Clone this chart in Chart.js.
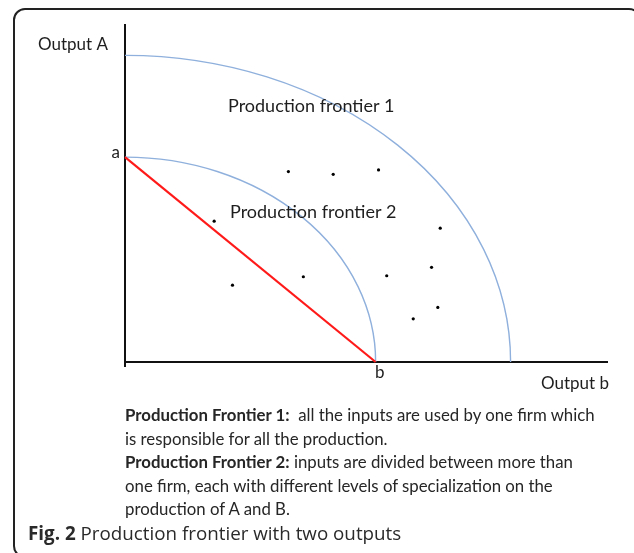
<!DOCTYPE html>
<html>
<head>
<meta charset="utf-8">
<script src="https://cdn.jsdelivr.net/npm/chart.js@4/dist/chart.umd.min.js"></script>
<style>
  html, body { margin: 0; padding: 0; background: #fff; }
  #wrap { position: relative; width: 634px; height: 553px; overflow: hidden; }
  #frame { position: absolute; left: 13px; top: 8px; width: 624px; height: 546px;
           border: 2px solid #222; border-radius: 12px; }
  canvas { position: absolute; left: 0; top: 0; }
  #notes { position: absolute; left: 125px; top: 403px; font-family: Lato, sans-serif;
           font-size: 16.8px; line-height: 23.5px; color: #262626; white-space: nowrap; }
  #caption { position: absolute; left: 28px; top: 520px; font-family: "Open Sans", sans-serif;
             font-size: 18.8px; line-height: 26px; color: #2a2a2a; white-space: nowrap; }
</style>
</head>
<body>
<div id="wrap">
  <div id="frame"></div>
  <canvas id="chart" width="634" height="553"></canvas>
  <div id="notes">
    <b>Production Frontier 1:</b>&nbsp; all the inputs are used by one firm which<br>
    is responsible for all the production.<br>
    <b>Production Frontier 2:</b> inputs are divided between more than<br>
    one firm, each with different levels of specialization on the<br>
    production of A and B.
  </div>
  <div id="caption"><b>Fig. 2</b> Production frontier with two outputs</div>
</div>
<script>
// frontier intercepts: [on Output b axis, on Output A axis]
const frontier1 = [8.0, 9.1];
const frontier2 = [5.2, 6.08];
const frontierNames = ["Production frontier 1", "Production frontier 2"];

// straight line between a and b
const pointA = 6.08;
const pointB = 5.2;

// firms scattered around
const dotX = [3.39, 4.32, 5.26, 1.85, 2.23, 3.70, 5.43, 5.98, 6.54, 6.36, 6.49];
const dotY = [5.65, 5.57, 5.70, 4.18, 2.28, 2.53, 2.56, 1.28, 3.97, 2.81, 1.62];

const dots = dotX.map((x, i) => ({ x: x, y: dotY[i] }));

const frontierPlugin = {
    id: 'frontiers',
    beforeDatasetsDraw(chart) {
        const ctx = chart.ctx;
        const xs = chart.scales.x, ys = chart.scales.y;
        const ox = xs.getPixelForValue(0), oy = ys.getPixelForValue(0);
        ctx.save();
        ctx.strokeStyle = '#8fb0dc';
        ctx.lineWidth = 1.4;
        [frontier1, frontier2].forEach(f => {
            const rx = xs.getPixelForValue(f[0]) - ox;
            const ry = oy - ys.getPixelForValue(f[1]);
            ctx.beginPath();
            ctx.ellipse(ox, oy, rx, ry, 0, -Math.PI / 2, 0);
            ctx.stroke();
        });
        ctx.restore();
    },
    afterDraw(chart) {
        const ctx = chart.ctx;
        const area = chart.chartArea;
        const xs = chart.scales.x, ys = chart.scales.y;
        ctx.save();
        ctx.fillStyle = '#1e1e1e';
        ctx.textBaseline = 'middle';
        ctx.font = '17px Lato, sans-serif';
        ctx.textAlign = 'left';
        ctx.fillText('Output A', 38, 45);
        ctx.fillText('Output b', 541, 384);
        ctx.font = '18px Lato, sans-serif';
        ctx.fillText(frontierNames[0], 228, 106);
        ctx.fillText(frontierNames[1], 230, 212);
        ctx.font = '17px Lato, sans-serif';
        ctx.textAlign = 'right';
        ctx.fillText('a', area.left - 5, ys.getPixelForValue(pointA) - 5);
        ctx.textAlign = 'center';
        ctx.fillText('b', xs.getPixelForValue(pointB) + 4, area.bottom + 11);
        // y axis pokes a little below the x axis
        ctx.strokeStyle = '#111';
        ctx.lineWidth = 2;
        ctx.beginPath();
        ctx.moveTo(area.left, area.bottom);
        ctx.lineTo(area.left, area.bottom + 5);
        ctx.stroke();
        ctx.restore();
    }
};

new Chart(document.getElementById('chart'), {
    type: 'scatter',
    data: {
        datasets: [
            {
                label: 'a-b',
                data: [{ x: 0, y: pointA }, { x: pointB, y: 0 }],
                showLine: true,
                borderColor: '#ff1a1a',
                borderWidth: 2.2,
                pointRadius: 0,
                clip: false
            },
            {
                label: 'firms',
                data: dots,
                backgroundColor: '#000',
                borderColor: '#000',
                pointRadius: 1.6,
                pointBorderWidth: 0,
                clip: false
            }
        ]
    },
    options: {
        responsive: false,
        animation: false,
        events: [],
        layout: { padding: { left: 125, top: 25, right: 27, bottom: 191 } },
        plugins: { legend: { display: false }, tooltip: { enabled: false } },
        scales: {
            x: {
                type: 'linear', min: 0, max: 10,
                grid: { display: false },
                ticks: { display: false },
                border: { display: true, color: '#111', width: 2 },
                afterFit: s => { s.height = 0; }
            },
            y: {
                type: 'linear', min: 0, max: 10,
                grid: { display: false },
                ticks: { display: false },
                border: { display: true, color: '#111', width: 2 },
                afterFit: s => { s.width = 0; }
            }
        }
    },
    plugins: [frontierPlugin]
});
</script>
</body>
</html>
